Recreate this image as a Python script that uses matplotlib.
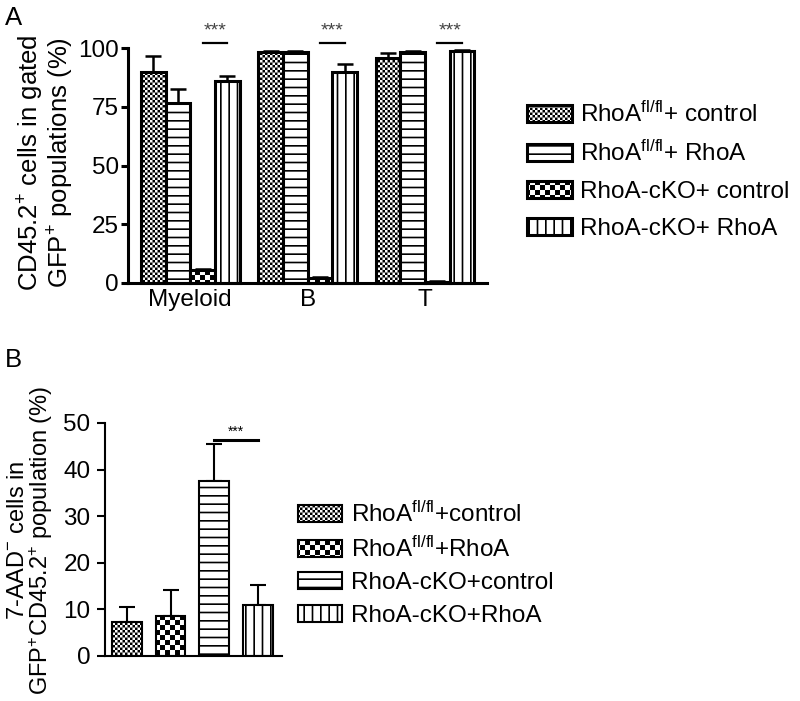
import numpy as np
import matplotlib
matplotlib.use("Agg")
import matplotlib.pyplot as plt
import matplotlib.hatch as mhatch
from matplotlib.path import Path

# ---- data ----
groups_a = ["Myeloid", "B", "T"]
labels_a = [r"RhoA$^{fl/fl}$+ control", r"RhoA$^{fl/fl}$+ RhoA",
            "RhoA-cKO+ control", "RhoA-cKO+ RhoA"]
fl_ctrl_a = [90, 98.5, 95.8]
fl_ctrl_a_err = [6.4, 0.4, 2.2]
fl_rhoa_a = [76.8, 98.5, 98.3]
fl_rhoa_a_err = [5.8, 0.3, 0.6]
ko_ctrl_a = [5.5, 2.3, 0.5]
ko_ctrl_a_err = [0.6, 0.3, 0.2]
ko_rhoa_a = [86, 90, 98.7]
ko_rhoa_a_err = [2.2, 3.0, 0.4]

labels_b = [r"RhoA$^{fl/fl}$+control", r"RhoA$^{fl/fl}$+RhoA",
            "RhoA-cKO+control", "RhoA-cKO+RhoA"]
vals_b = [7.3, 8.6, 37.6, 11.0]
errs_b = [3.2, 5.6, 7.9, 4.2]

stars_a_y = 102
stars_b_y = 46.4


# checkerboard hatches: '*' coarse, '.' fine
class _Checker(mhatch.HatchPatternBase):
    char = "*"
    per_count = 10
    gap = 0.0085

    def __init__(self, hatch, density):
        self.n = hatch.count(self.char) * self.per_count
        self.num_vertices = (self.n * self.n // 2) * 5 if self.n else 0

    def set_vertices_and_codes(self, vertices, codes):
        n = self.n
        c = 1.0 / n
        g = self.gap
        verts = []
        for i in range(n):
            for j in range(n):
                if (i + j) % 2 == 0:
                    x0, y0 = j * c + g, i * c + g
                    x1, y1 = (j + 1) * c - g, (i + 1) * c - g
                    verts += [(x0, y0), (x1, y0), (x1, y1), (x0, y1), (x0, y0)]
        vertices[:] = np.array(verts)
        codes[:] = np.tile([Path.MOVETO, Path.LINETO, Path.LINETO,
                            Path.LINETO, Path.CLOSEPOLY], n * n // 2)

    get_path = set_vertices_and_codes


class _FineChecker(_Checker):
    char = "."


mhatch._hatch_types[:] = [t for t in mhatch._hatch_types
                          if t not in (mhatch.Stars, mhatch.SmallFilledCircles)]
mhatch._hatch_types += [_Checker, _FineChecker]

plt.rcParams["font.family"] = ["Liberation Sans", "DejaVu Sans"]
plt.rcParams["mathtext.fontset"] = "custom"
plt.rcParams["mathtext.rm"] = "Liberation Sans"
plt.rcParams["mathtext.it"] = "Liberation Sans:italic"
plt.rcParams["mathtext.default"] = "regular"
plt.rcParams["hatch.linewidth"] = 1.2

fig = plt.figure(figsize=(8, 7.01), dpi=100)

# ---------------- panel A ----------------
ax = fig.add_axes([0.16, 0.5963, 0.449, 0.3352])
hatches_a = ["....", "--", "**", "||"]
series_a = [(fl_ctrl_a, fl_ctrl_a_err), (fl_rhoa_a, fl_rhoa_a_err),
            (ko_ctrl_a, ko_ctrl_a_err), (ko_rhoa_a, ko_rhoa_a_err)]
w = 0.21
x = np.arange(len(groups_a))
for i, (vals, errs) in enumerate(series_a):
    xi = x + (i - 1.5) * w
    ax.errorbar(xi, vals, yerr=[np.zeros(len(vals)), errs], fmt="none",
                ecolor="k", elinewidth=1.8, capsize=5.5, capthick=1.8,
                clip_on=False, zorder=1)
    ax.bar(xi, vals, w, color="white", edgecolor="k", linewidth=2.2,
           hatch=hatches_a[i], label=labels_a[i], clip_on=False, zorder=2)

for g in x:
    x3 = g + 0.5 * w
    x4 = g + 1.5 * w
    ax.plot([x3, x4], [stars_a_y, stars_a_y], color="k", lw=1.6, clip_on=False)
    ax.text((x3 + x4) / 2, stars_a_y + 3.5, "***", ha="center", va="baseline",
            fontsize=14, color="#444444", clip_on=False)

ax.set_xlim(-0.53, 2.53)
ax.set_ylim(0, 100)
ax.set_yticks([0, 25, 50, 75, 100])
ax.set_xticks(x)
ax.set_xticklabels(groups_a)
for s in ["top", "right"]:
    ax.spines[s].set_visible(False)
for s in ["left", "bottom"]:
    ax.spines[s].set_linewidth(2.2)
ax.tick_params(axis="y", length=5, width=2.2, pad=1.5, labelsize=17.5)
ax.tick_params(axis="x", length=0, pad=4, labelsize=17.5)

fig.text(46 / 800, 1 - 163 / 701,
         "CD45.2$^{+}$ cells in gated\nGFP$^{+}$ populations (%)",
         rotation=90, ha="center", va="center", fontsize=18.5,
         multialignment="center", linespacing=1.0)

fig.legend(*ax.get_legend_handles_labels(), loc="center left",
           bbox_to_anchor=(527 / 800, 1 - 170.5 / 701), frameon=False,
           fontsize=17.5, handlelength=1.85, handleheight=0.7,
           handletextpad=0.33, labelspacing=0.6, borderpad=0,
           borderaxespad=0)

fig.text(5 / 800, 1 - 25 / 701, "A", fontsize=18.5, ha="left", va="baseline")

# ---------------- panel B ----------------
bx = fig.add_axes([0.13125, 0.0642, 0.22125, 0.3324])
hatches_b = ["....", "**", "--", "||"]
xb = np.arange(len(vals_b))
wb = 0.68
bx.errorbar(xb, vals_b, yerr=[np.zeros(len(vals_b)), errs_b], fmt="none",
            ecolor="k", elinewidth=1.5, capsize=6, capthick=1.5,
            clip_on=False, zorder=1)
for i in range(len(vals_b)):
    bx.bar(xb[i], vals_b[i], wb, color="white", edgecolor="k", linewidth=1.5,
           hatch=hatches_b[i], label=labels_b[i], zorder=2)

bx.plot([xb[2], xb[3]], [stars_b_y, stars_b_y], color="k", lw=2.2,
        clip_on=False)
bx.text((xb[2] + xb[3]) / 2, stars_b_y + 0.8, "***", ha="center",
        va="baseline", fontsize=10, color="k")

bx.set_xlim(-0.5, 3.55)
bx.set_ylim(0, 50)
bx.set_yticks([0, 10, 20, 30, 40, 50])
bx.set_xticks([])
for s in ["top", "right"]:
    bx.spines[s].set_visible(False)
for s in ["left", "bottom"]:
    bx.spines[s].set_linewidth(1.5)
bx.tick_params(axis="y", length=5.5, width=1.5, pad=5, labelsize=17.5)

fig.text(31 / 800, 1 - 540 / 701,
         "7-AAD$^{-}$ cells in\nGFP$^{+}$CD45.2$^{+}$ population (%)",
         rotation=90, ha="center", va="center", fontsize=17,
         multialignment="center", linespacing=0.92)

fig.legend(*bx.get_legend_handles_labels(), loc="center left",
           bbox_to_anchor=(298 / 800, 1 - 564 / 701), frameon=False,
           fontsize=17.5, handlelength=1.8, handleheight=0.7,
           handletextpad=0.4, labelspacing=0.42, borderpad=0,
           borderaxespad=0)

fig.text(5 / 800, 1 - 367 / 701, "B", fontsize=18.5, ha="left", va="baseline")

fig.savefig("out.png", dpi=100)
